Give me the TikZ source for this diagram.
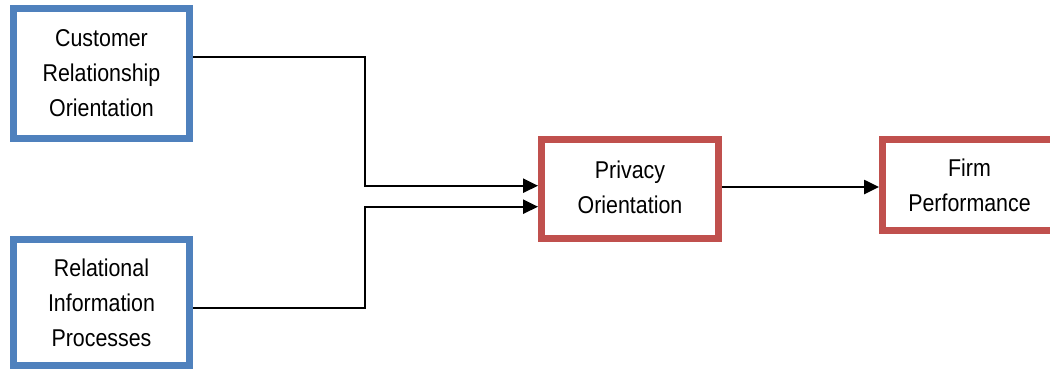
\documentclass[tikz,border=0pt]{standalone}
\usepackage{fontspec}
\setmainfont{Liberation Sans}
\newfontfamily\labelfont[FakeStretch=0.88]{Liberation Sans}
\usetikzlibrary{arrows.meta}
\definecolor{boxblue}{HTML}{4F81BD}
\definecolor{boxred}{HTML}{C0504D}
\begin{document}
\begin{tikzpicture}[x=1pt,y=-1pt,
  box/.style={draw, line width=6.6pt, fill=white, align=center, inner sep=0pt,
    font=\labelfont\fontsize{24.3}{35}\selectfont},
  inbox/.style={box, draw=boxblue},
  outbox/.style={box, draw=boxred},
  link/.style={line width=2.4pt, line join=miter},
  arrowlink/.style={link, -{Triangle[length=15pt,width=14pt]}}]
  \clip (0,0) rectangle (1050,370);
  \useasboundingbox (0,0) rectangle (1050,370);

  % input constructs
  \node[inbox, minimum width=176.4pt, minimum height=130.4pt] (cro) at (101.5,73.5)
    {Customer\\Relationship\\Orientation};
  \node[inbox, minimum width=176.4pt, minimum height=126.4pt] (rip) at (101.5,302.5)
    {Relational\\Information\\Processes};

  % mediator and outcome
  \node[outbox, minimum width=177.3pt, minimum height=99.3pt] (po) at (630,189)
    {\raisebox{3pt}{\begin{tabular}{@{}c@{}}Privacy\\Orientation\end{tabular}}};
  \node[outbox, minimum width=174.3pt, minimum height=91.3pt] (fp) at (969.5,185)
    {Firm\\Performance};

  % elbow points of the two input connectors
  \coordinate (a1) at (365,57);
  \coordinate (a2) at (365,185.7);
  \coordinate (b1) at (365,307.7);
  \coordinate (b2) at (365,206.7);
  \coordinate (c1) at (0,187);

  \draw[arrowlink] (cro.east |- a1) -- (a1) -- (a2) -- (po.west |- a2);
  \draw[arrowlink] (rip.east |- b1) -- (b1) -- (b2) -- (po.west |- b2);
  \draw[arrowlink] (po.east |- c1) -- (fp.west |- c1);
\end{tikzpicture}
\end{document}
